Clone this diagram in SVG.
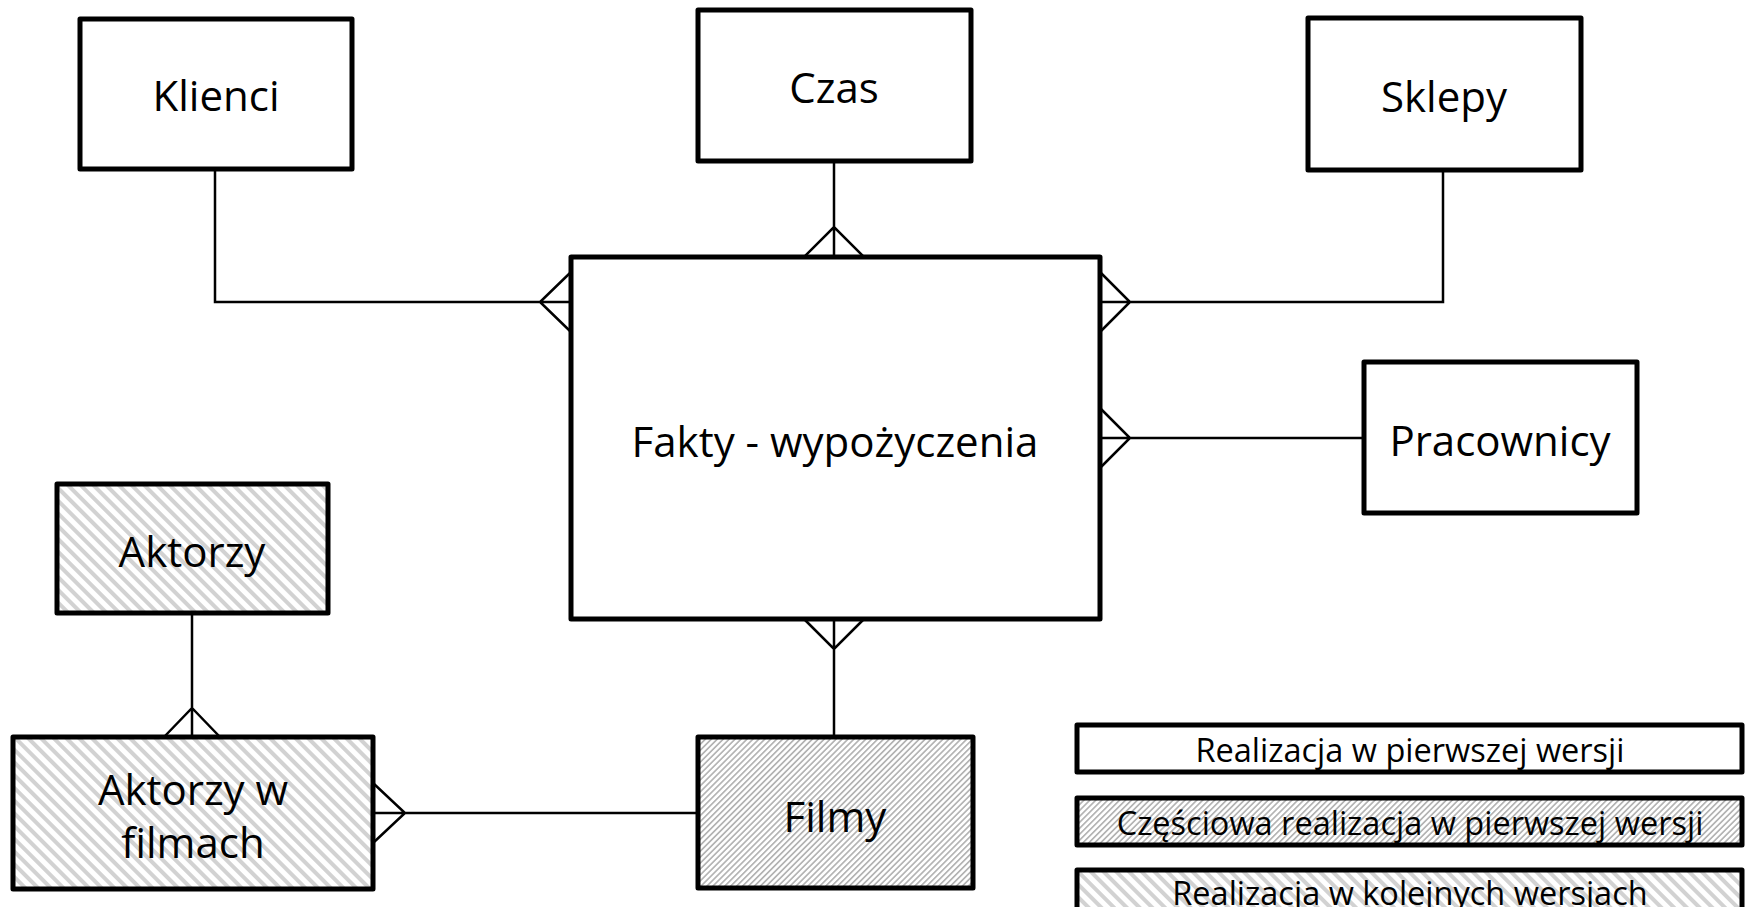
<svg xmlns="http://www.w3.org/2000/svg" width="1754" height="907" viewBox="0 0 1754 907">
  <defs>
    <!-- wide light stripes: planned for later versions -->
    <pattern id="hatch-wide" patternUnits="userSpaceOnUse" width="9" height="9" patternTransform="rotate(-45)">
      <rect width="9" height="9" fill="#ffffff"/>
      <rect width="4" height="9" fill="#d2d2d2"/>
    </pattern>
    <!-- fine dense stripes: partial implementation -->
    <pattern id="hatch-fine" patternUnits="userSpaceOnUse" width="4.2" height="4.2" patternTransform="rotate(45)">
      <rect width="4.2" height="4.2" fill="#ffffff"/>
      <rect width="1.7" height="4.2" fill="#b4b4b4"/>
    </pattern>
    <style>
      .box { stroke: #000; stroke-width: 5; stroke-linejoin: round; fill: #fff; }
      .wide { fill: url(#hatch-wide); }
      .fine { fill: url(#hatch-fine); }
      .lbl { font-family: "Open Sans", "Noto Sans", "DejaVu Sans", sans-serif; font-size: 42px; fill: #000; text-anchor: middle; dominant-baseline: central; }
      .leg { font-size: 32.5px; }
      .conn path { fill: none; stroke: #000; stroke-width: 2.5; }
    </style>
  </defs>

  <rect width="1754" height="907" fill="#ffffff"/>

  <!-- relationships (crow's foot notation) -->
  <g id="connectors" class="conn">
    <path d="M215,169 V302 H571 M571,272 L540,302 L571,332"/>
    <path d="M834,161 V257 M804,257 L834,227 L864,257"/>
    <path d="M1443,170 V302 H1100 M1100,272 L1130,302 L1100,332"/>
    <path d="M1364,438 H1100 M1100,408 L1130,438 L1100,468"/>
    <path d="M834,737 V619 M804,619 L834,649 L864,619"/>
    <path d="M192,613 V737 M164,737 L192,708 L220,737"/>
    <path d="M698,813 H373 M373,783 L405,813 L373,843"/>
  </g>

  <g id="klienci">
    <rect class="box" x="80" y="19" width="272" height="150"/>
    <text class="lbl" x="216" y="94">Klienci</text>
  </g>

  <g id="czas">
    <rect class="box" x="698" y="10" width="273" height="151"/>
    <text class="lbl" x="834" y="86">Czas</text>
  </g>

  <g id="sklepy">
    <rect class="box" x="1308" y="18" width="273" height="152"/>
    <text class="lbl" x="1444" y="95">Sklepy</text>
  </g>

  <g id="fakty">
    <rect class="box" x="571" y="257" width="529" height="362"/>
    <text class="lbl" x="835" y="440">Fakty - wypożyczenia</text>
  </g>

  <g id="pracownicy">
    <rect class="box" x="1364" y="362" width="273" height="151"/>
    <text class="lbl" x="1500" y="439">Pracownicy</text>
  </g>

  <g id="aktorzy">
    <rect class="box wide" x="57" y="484" width="271" height="129"/>
    <text class="lbl" x="192" y="550">Aktorzy</text>
  </g>

  <g id="aktorzy-w-filmach">
    <rect class="box wide" x="13" y="737" width="360" height="152"/>
    <text class="lbl" x="193" y="788">Aktorzy w</text>
    <text class="lbl" x="193" y="841">filmach</text>
  </g>

  <g id="filmy">
    <rect class="box fine" x="698" y="737" width="275" height="151"/>
    <text class="lbl" x="835" y="815">Filmy</text>
  </g>

  <!-- legend -->
  <g id="legend-first">
    <rect class="box" x="1077" y="725" width="665" height="47"/>
    <text class="lbl leg" x="1410" y="749">Realizacja w pierwszej wersji</text>
  </g>
  <g id="legend-partial">
    <rect class="box fine" x="1077" y="798" width="665" height="47"/>
    <text class="lbl leg" x="1410" y="822">Częściowa realizacja w pierwszej wersji</text>
  </g>
  <g id="legend-later">
    <rect class="box wide" x="1077" y="870" width="665" height="47"/>
    <text class="lbl leg" x="1410" y="892">Realizacja w kolejnych wersjach</text>
  </g>
</svg>
